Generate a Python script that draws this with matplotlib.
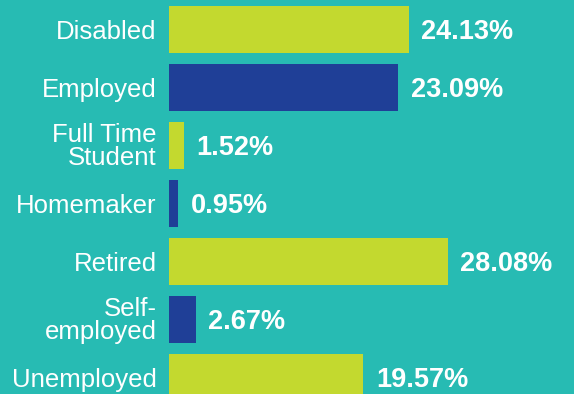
import matplotlib
matplotlib.use("Agg")
import matplotlib.pyplot as plt

categories = ["Disabled", "Employed", "Full Time\nStudent", "Homemaker",
              "Retired", "Self-\nemployed", "Unemployed"]
values = [24.13, 23.09, 1.52, 0.95, 28.08, 2.67, 19.57]
value_labels = ["24.13%", "23.09%", "1.52%", "0.95%", "28.08%", "2.67%", "19.57%"]

BG = "#27bbb3"
LIME = "#c3d92f"
BLUE = "#1f3f97"
bar_colors = [LIME, BLUE, LIME, BLUE, LIME, BLUE, LIME]

plt.rcParams["font.family"] = ["Liberation Sans", "DejaVu Sans"]

W, H = 574, 394
fig = plt.figure(figsize=(W / 100, H / 100), dpi=100, facecolor=BG)
left_px = 169
ax = fig.add_axes([left_px / W, 0, (W - left_px) / W, 1])
ax.set_facecolor(BG)

y = list(range(len(categories)))
ax.barh(y, values, height=0.805, color=bar_colors, linewidth=0)

px_per_unit = 9.93
ax.set_xlim(0, (W - left_px) / px_per_unit)
ax.set_ylim(6 + 0.286, -0.507)

for yi, v, lab in zip(y, values, value_labels):
    ax.annotate(lab, xy=(v, yi), xytext=(9, -2.2), textcoords="offset points",
                ha="left", va="center", color="white", fontsize=19.5,
                fontweight="bold")

for yi, cat in zip(y, categories):
    dy = -0.8 if "\n" in cat else -2.2
    ax.annotate(cat, xy=(0, yi), xytext=(-9, dy), textcoords="offset points",
                ha="right", va="center", color="white", fontsize=18.5,
                linespacing=0.9, annotation_clip=False)

ax.set_xticks([])
ax.set_yticks([])
for s in ax.spines.values():
    s.set_visible(False)

fig.savefig("out.png", dpi=100, facecolor=BG)
